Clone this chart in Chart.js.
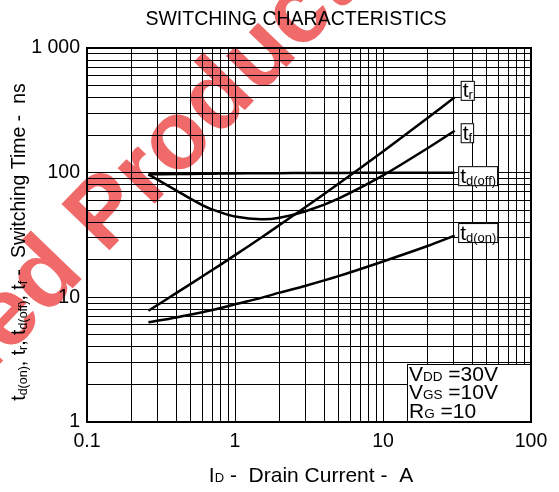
<!DOCTYPE html>
<html>
<head>
<meta charset="utf-8">
<script src="https://cdn.jsdelivr.net/npm/chart.js@4.4.0/dist/chart.umd.min.js"></script>
<style>
    body { margin: 0; background: #fff; }
    #wrap { width: 559px; height: 492px; }
</style>
</head>
<body>
<div id="wrap"><canvas id="switchChart" width="559" height="492"></canvas></div>
<script>
// Drain current (A) sample points
const drainCurrent = [0.26, 0.4, 0.6, 0.8, 1, 1.5, 2, 3, 5, 10, 20, 30.5];

// Switching times (ns)
const riseTime = [7.8, 10.8, 14.7, 18.3, 21.8, 30.1, 38, 53, 81.5, 148, 274, 402];
const fallTime = [97, 72, 55, 48, 44.5, 42.3, 43.5, 49, 62, 95, 157, 217];
const delayOff = [97, 97.5, 98, 98.3, 98.5, 99, 99, 99.5, 99.5, 100, 100, 100];
const delayOn  = [6.3, 6.9, 7.6, 8.2, 8.8, 9.9, 10.9, 12.4, 14.8, 19.4, 25.8, 31.3];

// Axis labels
const xTickLabels = ['0.1', '1', '10', '100'];
const yTickLabels = ['1', '10', '100', '1 000'];
const xDecades = [0.1, 1, 10];
const yDecades = [1, 10, 100];

// Test conditions shown in the corner box
const conditions = [
    ['V', 'DD', ' =30V'],
    ['V', 'GS', ' =10V'],
    ['R', 'G', ' =10']
];

const FONT = '"Liberation Sans", Arial, sans-serif';

// Build gridline positions 1..9 per decade
function gridValues(decades) {
    const vals = [];
    decades.forEach(d => {
        for (let m = 1; m < 10; m++) vals.push(+(d * m).toPrecision(3));
    });
    vals.push(decades[decades.length - 1] * 10);
    return vals;
}

function majorLabel(value, decades, labels) {
    const all = decades.concat([decades[decades.length - 1] * 10]);
    for (let i = 0; i < all.length; i++) {
        if (Math.abs(value - all[i]) < all[i] * 1e-6) return labels[i];
    }
    return '';
}

function series(ys) {
    return drainCurrent.map((x, i) => ({ x: x, y: ys[i] }));
}

// Text made of [text, size, baselineShift] pieces
function partsWidth(ctx, parts) {
    let w = 0;
    parts.forEach(p => {
        ctx.font = p[1] + 'px ' + FONT;
        w += ctx.measureText(p[0]).width;
    });
    return w;
}

function drawParts(ctx, parts, x, y) {
    ctx.textAlign = 'left';
    ctx.textBaseline = 'alphabetic';
    parts.forEach(p => {
        ctx.font = p[1] + 'px ' + FONT;
        ctx.fillText(p[0], x, y + (p[2] || 0));
        x += ctx.measureText(p[0]).width;
    });
}

// Curve end labels in boxes
const curveLabels = [
    { data: riseTime, parts: [['t', 21], ['r', 13, 2]], dx: 6, dy: -7 },
    { data: fallTime, parts: [['t', 21], ['f', 13, 2]], dx: 6, dy: 2 },
    { data: delayOff, parts: [['t', 21], ['d(off)', 13, 2]], dx: 3.5, dy: 3 },
    { data: delayOn, parts: [['t', 21], ['d(on)', 13, 2]], dx: 3.5, dy: -3 }
];

const decorPlugin = {
    id: 'decor',
    beforeDraw(chart) {
        // watermark behind everything
        const ctx = chart.ctx;
        ctx.save();
        ctx.fillStyle = '#f06a6a';
        ctx.font = 'bold 97px ' + FONT;
        const pre = ctx.measureText('Discontinued ').width;
        ctx.translate(105, 255);
        ctx.rotate(-46 * Math.PI / 180);
        ctx.textBaseline = 'alphabetic';
        ctx.textAlign = 'left';
        ctx.fillText('Discontinued Product', -pre, 0);
        ctx.restore();
    },
    afterDraw(chart) {
        const ctx = chart.ctx;
        const area = chart.chartArea;
        const xs = chart.scales.x;
        const ys = chart.scales.y;
        ctx.save();
        ctx.fillStyle = '#000';
        ctx.strokeStyle = '#000';

        // frame
        ctx.lineWidth = 2;
        ctx.strokeRect(area.left, area.top, area.right - area.left, area.bottom - area.top);

        // title
        ctx.font = '19.5px ' + FONT;
        ctx.textAlign = 'center';
        ctx.textBaseline = 'alphabetic';
        ctx.fillText('SWITCHING CHARACTERISTICS', 296, 25);

        // x axis title
        const xt = [['I', 21], ['D', 13], [' -  Drain Current -  A', 21]];
        const xw = partsWidth(ctx, xt);
        drawParts(ctx, xt, 311 - xw / 2, 482);

        // y axis title, rotated
        const yt = [['t', 19.5], ['d(on)', 12.5, 2], [', t', 19.5], ['r', 12.5, 2], [', t', 19.5],
                    ['d(off)', 12.5, 2], [', t', 19.5], ['f', 12.5, 2], [' -  Switching Time -  ns', 19.5]];
        const yw = partsWidth(ctx, yt);
        ctx.save();
        ctx.translate(25, 242);
        ctx.rotate(-Math.PI / 2);
        drawParts(ctx, yt, -yw / 2, 0);
        ctx.restore();

        // curve labels
        ctx.lineWidth = 1;
        curveLabels.forEach(l => {
            const n = drainCurrent.length - 1;
            const px = xs.getPixelForValue(drainCurrent[n]) + l.dx;
            const py = ys.getPixelForValue(l.data[n]) + l.dy;
            const w = partsWidth(ctx, l.parts) + 3;
            const h = 19;
            ctx.fillStyle = '#fff';
            ctx.fillRect(px, py - h / 2, w, h);
            ctx.strokeRect(px + 0.5, py - h / 2 + 0.5, w, h);
            ctx.fillStyle = '#000';
            drawParts(ctx, l.parts, px + 2, py + 7);
        });

        // conditions box
        const bx = area.right - 124, by = area.bottom - 58;
        ctx.fillStyle = '#fff';
        ctx.fillRect(bx, by, area.right - bx, area.bottom - by);
        ctx.lineWidth = 1;
        ctx.strokeRect(bx + 0.5, by + 0.5, area.right - bx, area.bottom - by);
        ctx.lineWidth = 2;
        ctx.beginPath();
        ctx.moveTo(area.right, by);
        ctx.lineTo(area.right, area.bottom);
        ctx.lineTo(bx, area.bottom);
        ctx.stroke();
        ctx.fillStyle = '#000';
        conditions.forEach((c, i) => {
            drawParts(ctx, [[c[0], 21], [c[1], 13.5], [c[2], 21]], bx + 2, by + 17 + i * 18.4);
        });
        ctx.restore();
    }
};

function lineSet(label, ys) {
    return {
        label: label,
        data: series(ys),
        borderColor: '#000',
        borderWidth: 2.5,
        pointRadius: 0,
        fill: false,
        tension: 0.3
    };
}

const ctx = document.getElementById('switchChart').getContext('2d');
new Chart(ctx, {
    type: 'line',
    data: {
        datasets: [
            lineSet('tr', riseTime),
            lineSet('tf', fallTime),
            lineSet('td(off)', delayOff),
            lineSet('td(on)', delayOn)
        ]
    },
    options: {
        responsive: false,
        animation: false,
        layout: { padding: { top: 48, right: 28, left: 0, bottom: 0 } },
        scales: {
            x: {
                type: 'logarithmic',
                min: 0.1,
                max: 100,
                afterBuildTicks: s => { s.ticks = gridValues(xDecades).map(v => ({ value: v })); },
                afterFit: s => { s.height = 70; },
                grid: { color: '#000', lineWidth: 1, tickLength: 0 },
                border: { display: true, color: '#000', width: 2 },
                ticks: {
                    autoSkip: false,
                    maxRotation: 0,
                    padding: 8,
                    color: '#000',
                    font: { family: FONT, size: 19.5 },
                    callback: v => majorLabel(v, xDecades, xTickLabels)
                }
            },
            y: {
                type: 'logarithmic',
                min: 1,
                max: 1000,
                afterBuildTicks: s => { s.ticks = gridValues(yDecades).map(v => ({ value: v })); },
                afterFit: s => { s.width = 87; },
                grid: { color: '#000', lineWidth: 1, tickLength: 0 },
                border: { display: true, color: '#000', width: 2 },
                ticks: {
                    autoSkip: false,
                    padding: 7,
                    color: '#000',
                    font: { family: FONT, size: 19.5 },
                    callback: v => majorLabel(v, yDecades, yTickLabels)
                }
            }
        },
        plugins: {
            legend: { display: false },
            tooltip: { enabled: false }
        }
    },
    plugins: [decorPlugin]
});
</script>
</body>
</html>
